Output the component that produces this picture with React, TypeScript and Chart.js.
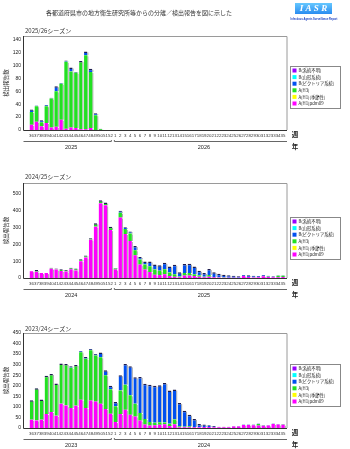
import React, { useEffect, useRef } from "react";
import { Chart, registerables } from "chart.js";
Chart.register(...registerables);

const FONT = "'Liberation Sans','Noto Sans CJK JP',sans-serif";
const JFONT = "'Noto Sans CJK JP','Liberation Sans',sans-serif";

const WEEKS = ["36","37","38","39","40","41","42","43","44","45","46","47","48","49","50","51","52",
  "1","2","3","4","5","6","7","8","9","10","11","12","13","14","15","16","17","18","19","20",
  "21","22","23","24","25","26","27","28","29","30","31","32","33","34","35"];

const SERIES_LABELS = ["A(H1)pdm09", "A(H1)(季節性)", "A(H3)", "B(ビクトリア系統)", "B(山形系統)", "B(系統不明)"];
const SERIES_COLORS = ["#ff00ff", "#ffff00", "#22e022", "#0050f0", "#00ffff", "#9900ff"];

const ZERO = [0,0,0,0,0,0,0,0,0,0,0,0,0,0,0,0,0,0,0,0,0,0,0,0,0,0,0,0,0,0,0,0,0,0,0,0,0,0,0,0,0,0,0,0,0,0,0,0,0,0,0,0];

// 2025/26
const S2526_PDM = [8,13,6,11,4,5,16,2,4,3,1,1,3,0,0,0,0, 0,0,0,0,0,0,0,0,0,0,0,0,0,0,0,0,0,0,0,0,0,0,0,0,0,0,0,0,0,0,0,0,0,0,0];
const S2526_H3 = [20,24,6,26,45,55,56,104,87,86,106,115,87,23,2,0,0, 0,0,0,0,0,0,0,0,0,0,0,0,0,0,0,0,0,0,0,0,0,0,0,0,0,0,0,0,0,0,0,0,0,0,0];
const S2526_BVIC = [4,1,3,2,1,8,1,2,6,1,0,6,5,3,0,0,0, 0,0,0,0,0,0,0,0,0,0,0,0,0,0,0,0,0,0,0,0,0,0,0,0,0,0,0,0,0,0,0,0,0,0,0];

// 2024/25
const S2425_PDM = [40,37,29,29,55,50,42,38,52,45,100,122,228,305,445,432,285,
  50,360,262,220,135,80,50,35,20,18,22,12,
  8,5,15,15,12,8,5,8,4,3,2,1,2,2,12,6,3,5,10,6,4,5,6];
const S2425_H3 = [2,10,1,1,6,7,10,10,9,11,12,12,8,20,18,17,20,
  6,28,30,45,30,30,30,35,30,25,30,20,
  14,4,15,15,10,8,3,10,2,2,1,0,0,0,0,0,0,0,2,2,0,8,8];
const S2425_BVIC = [0,0,0,0,0,0,0,0,0,0,0,0,0,0,0,0,0,
  3,12,10,12,25,15,18,28,30,33,38,37,
  57,25,53,55,47,27,22,35,28,21,17,15,12,8,6,10,11,7,6,6,6,3,2];

// 2023/24
const S2324_PDM = [39,36,39,66,76,58,115,106,95,105,134,95,130,126,115,90,68,
  28,66,87,63,55,35,16,12,13,15,18,10,
  18,4,3,3,3,4,5,5,4,3,3,4,7,7,14,14,13,12,11,12,19,16,15];
const S2324_H3 = [93,152,96,182,180,153,191,197,190,193,225,233,238,217,220,160,115,
  75,112,118,92,60,36,27,16,12,12,8,10,
  22,4,3,5,2,0,0,0,0,0,0,0,0,0,0,0,1,7,1,0,0,1,2];
const S2324_BVIC = [0,0,0,0,0,0,0,0,7,0,6,8,6,8,23,23,17,
  20,72,98,137,125,171,167,177,175,175,187,158,
  142,110,76,55,38,15,11,8,5,3,3,2,2,2,2,2,2,2,2,2,2,2,2];

const SEASONS = [
  { season: "2025/26シーズン", years: ["2025", "2026"], series: [S2526_PDM, ZERO, S2526_H3, S2526_BVIC, ZERO, ZERO], max: 146, step: 20 },
  { season: "2024/25シーズン", years: ["2024", "2025"], series: [S2425_PDM, ZERO, S2425_H3, S2425_BVIC, ZERO, ZERO], max: 565, step: 100 },
  { season: "2023/24シーズン", years: ["2023", "2024"], series: [S2324_PDM, ZERO, S2324_H3, S2324_BVIC, ZERO, ZERO], max: 450, step: 50 },
];

const LAYOUTS = [
  { h: 160, top: 36, bottom: 130, legendTop: 66, seasonY: 31, header: true },
  { h: 145, top: 23, bottom: 118, legendTop: 57, seasonY: 17, header: false },
  { h: 144, top: 28, bottom: 123, legendTop: 59, seasonY: 24, header: false },
];

const TITLE = "各都道府県市の地方衛生研究所等からの分離／検出報告を図に示した";
const Y_TITLE = "検出報告数";

function isTop(ctx: any) {
  const ds = ctx.chart.data.datasets;
  const i = ctx.dataIndex;
  const d = ctx.datasetIndex;
  if (!(ds[d].data[i] > 0)) return false;
  for (let k = d + 1; k < ds.length; k++) if (ds[k].data[i] > 0) return false;
  return true;
}

function ChartBlock({ idx }: { idx: number }) {
  const ref = useRef<HTMLCanvasElement | null>(null);
  useEffect(() => {
    const cfg = SEASONS[idx];
    const lay = LAYOUTS[idx];
    const decor = {
      id: "decor",
      beforeDatasetsDraw(chart: any) {
        const c = chart.ctx;
        c.save();
        c.fillStyle = "#a8a8a8";
        chart.data.datasets.forEach((_: any, di: number) => {
          const meta = chart.getDatasetMeta(di);
          meta.data.forEach((el: any) => {
            if (el.base - el.y > 0.5) c.fillRect(el.x + el.width / 2, el.y + 1, 1, el.base - el.y - 1);
          });
        });
        c.restore();
      },
      afterDraw(chart: any) {
        const c = chart.ctx;
        const a = chart.chartArea;
        const x = chart.scales.x;
        const fl = a.left - 5.5;
        const fr = a.right + 1.5;
        c.save();
        c.lineWidth = 1;
        c.strokeStyle = "#9a9a9a";
        c.beginPath();
        c.moveTo(fl, a.top + 0.5); c.lineTo(fr, a.top + 0.5); c.lineTo(fr, a.bottom);
        c.stroke();
        c.strokeStyle = "#333";
        c.beginPath();
        c.moveTo(fl, a.top); c.lineTo(fl, a.bottom + 0.5); c.lineTo(fr, a.bottom + 0.5);
        c.stroke();
        const b = (x.getPixelForValue(16) + x.getPixelForValue(17)) / 2;
        const ly = Math.round(a.bottom + 11) + 0.5;
        c.strokeStyle = "#666";
        c.beginPath();
        c.moveTo(fl, ly); c.lineTo(b - 1.5, ly); c.lineTo(b - 1.5, ly - 1.5);
        c.moveTo(b + 1.5, ly - 1.5); c.lineTo(b + 1.5, ly); c.lineTo(fr, ly);
        c.stroke();
        c.fillStyle = "#222";
        c.textAlign = "center";
        c.textBaseline = "middle";
        c.font = `5.5px ${FONT}`;
        c.fillText(cfg.years[0], (fl + b) / 2 + 3, a.bottom + 17);
        c.fillText(cfg.years[1], (b + fr) / 2 + 4, a.bottom + 17);
        c.font = `bold 6.5px ${JFONT}`;
        c.fillText("週", fr + 8, a.bottom + 5);
        c.fillText("年", fr + 8, a.bottom + 17);
        c.textAlign = "left";
        c.font = `6px ${JFONT}`;
        c.fillStyle = "#333";
        c.fillText(cfg.season, 25, lay.seasonY);
        const lx = 290.5, lt = lay.legendTop + 0.5, lw = 50, lh = 42;
        c.fillStyle = "#fff";
        c.fillRect(lx, lt, lw, lh);
        c.strokeStyle = "#888";
        c.strokeRect(lx, lt, lw, lh);
        c.font = `4.3px ${JFONT}`;
        const dsets = chart.data.datasets;
        for (let i = 0; i < dsets.length; i++) {
          const k = dsets.length - 1 - i;
          const cy = lt + 4 + i * 6.6;
          c.fillStyle = dsets[k].backgroundColor;
          c.fillRect(lx + 2, cy - 2, 4, 4);
          c.fillStyle = "#222";
          c.fillText(dsets[k].label, lx + 8, cy);
        }
        if (lay.header) {
          c.textAlign = "center";
          c.fillStyle = "#333";
          c.font = `6px ${JFONT}`;
          c.fillText(TITLE, 139, 13);
          const g = c.createLinearGradient(0, 3, 0, 14);
          g.addColorStop(0, "#66c8ff");
          g.addColorStop(1, "#2a8cf0");
          c.fillStyle = g;
          c.fillRect(295, 3, 37, 11);
          c.fillStyle = "#fff";
          c.font = `italic bold 9px 'Liberation Serif',serif`;
          c.fillText("I A S R", 313.5, 9);
          c.fillStyle = "#1a3fc0";
          c.font = `bold 2.6px ${FONT}`;
          c.fillText("Infectious Agents Surveillance Report", 314, 19);
        }
        c.restore();
      },
    };
    const chart = new Chart(ref.current as HTMLCanvasElement, {
      type: "bar",
      data: {
        labels: WEEKS,
        datasets: SERIES_LABELS.map((label, k) => ({
          label,
          data: cfg.series[k],
          backgroundColor: SERIES_COLORS[k],
          borderColor: "#1c1c50",
          borderWidth: (ctx: any) => (isTop(ctx) ? { top: 1.5, left: 0, right: 0, bottom: 0 } : 0),
          borderSkipped: "start",
          barPercentage: 0.68,
          categoryPercentage: 1,
        })),
      },
      options: {
        animation: false,
        responsive: false,
        devicePixelRatio: 1,
        layout: { padding: { top: lay.top, bottom: lay.h - lay.bottom - 10, left: 0, right: 350 - 285.5 } },
        plugins: { legend: { display: false }, tooltip: { enabled: false }, title: { display: false } },
        scales: {
          x: {
            stacked: true,
            grid: { display: false, drawTicks: false },
            border: { display: false },
            ticks: { autoSkip: false, maxRotation: 0, minRotation: 0, padding: 3, color: "#333", font: { size: 4.4, family: FONT } },
            afterFit: (s: any) => { s.height = 10; },
          },
          y: {
            stacked: true,
            min: 0,
            max: cfg.max,
            grid: { display: false, drawTicks: false },
            border: { display: false },
            ticks: { stepSize: cfg.step, padding: 8, color: "#222", font: { size: 5, family: FONT } },
            afterBuildTicks: (s: any) => {
              const t: any[] = [];
              for (let v = 0; v <= cfg.max; v += cfg.step) t.push({ value: v });
              s.ticks = t;
            },
            afterFit: (s: any) => { s.width = 29; },
            title: { display: true, text: Y_TITLE, color: "#333", font: { size: 5.5, family: JFONT }, padding: { top: 3, bottom: 0 } },
          },
        },
      },
      plugins: [decor],
    } as any);
    return () => chart.destroy();
  }, [idx]);
  return <canvas ref={ref} width={350} height={LAYOUTS[idx].h} style={{ display: "block", width: 350, height: LAYOUTS[idx].h }} />;
}

export default function App() {
  return (
    <div style={{ position: "absolute", left: 0, top: 0, width: 350, height: 449, background: "#fff" }}>
      <ChartBlock idx={0} />
      <ChartBlock idx={1} />
      <ChartBlock idx={2} />
    </div>
  );
}
